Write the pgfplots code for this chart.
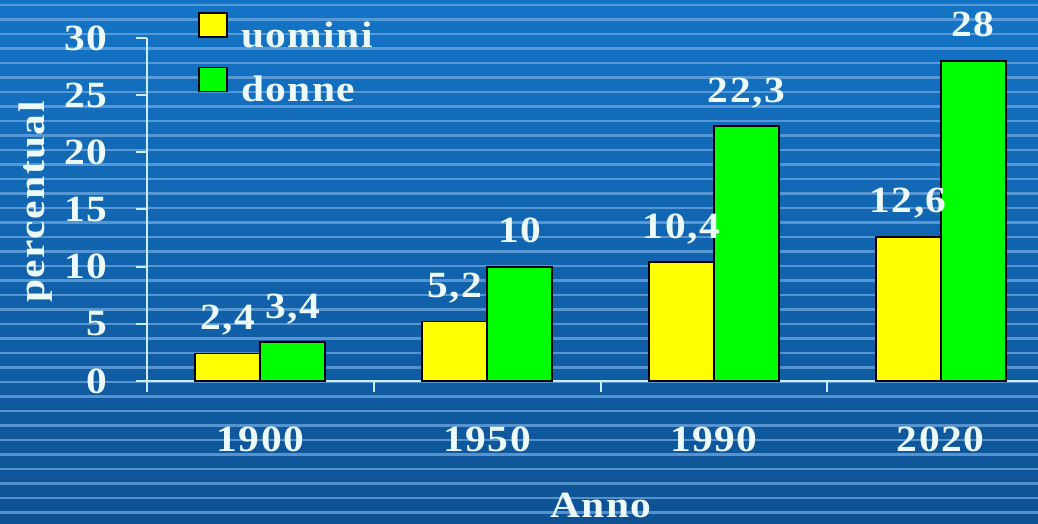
\documentclass[border=0pt]{standalone}
\usepackage{pgfplots}
\pgfplotsset{compat=1.18}
\usepackage{fontspec}
\newfontfamily\chartfont{Liberation Serif}[FakeStretch=1.12, LetterSpace=4]
\newcommand\cf{\chartfont\bfseries\fontsize{18.5pt}{21pt}\selectfont}
\definecolor{bgtop}{RGB}{20,116,198}
\definecolor{bgbot}{RGB}{14,82,148}
\definecolor{stripe}{RGB}{110,168,224}
\definecolor{txtcol}{RGB}{236,250,250}
\definecolor{axiscol}{RGB}{205,238,240}
\definecolor{barY}{RGB}{255,255,0}
\definecolor{barG}{RGB}{0,255,0}
\begin{document}
\begin{tikzpicture}
\useasboundingbox (0,0) rectangle (519pt,262pt);
\clip (0,0) rectangle (519pt,262pt);
\shade[top color=bgtop, bottom color=bgbot] (0,0) rectangle (519pt,262pt);
\foreach \i in {0,...,36} {
  \draw[stripe, opacity=0.75, line width=1.1pt] (0pt,{259.5pt-\i*7.25pt}) -- (519pt,{259.5pt-\i*7.25pt});
}
\begin{axis}[
  at={(73.5pt,71.5pt)}, anchor=south west,
  scale only axis, width=453.5pt, height=171.5pt,
  xmin=-0.5, xmax=3.5, ymin=0, ymax=30,
  clip=false,
  axis lines=left,
  axis line style={-, line width=1pt, color=axiscol},
  y axis line style={shorten <=-5.5pt},
  tick align=outside, major tick length=5.5pt,
  tick style={line width=1pt, color=axiscol},
  ytick={0,5,...,30},
  xtick={0.5,1.5,2.5}, xticklabels={},
  extra x ticks={0,1,2,3},
  extra x tick labels={1900,1950,1990,2020},
  extra x tick style={major tick length=0pt},
  /pgf/number format/assume math mode=true,
  /pgf/number format/use comma,
  /pgf/number format/fixed,
  /pgf/number format/precision=1,
  tick label style={font=\cf, text=txtcol},
  xticklabel style={anchor=base, yshift=-35.5pt},
  yticklabel style={anchor=east, inner sep=0pt, xshift=-14pt},
  label style={font=\cf, text=txtcol},
  xlabel={Anno},
  xlabel style={at={(axis description cs:0.5006,-0.3994)}, anchor=base},
  ylabel={percentual},
  ylabel style={at={(axis description cs:-0.1224,0.522)}, anchor=center},
  ybar=0pt, bar width=32.5pt,
  nodes near coords,
  every node near coord/.append style={font=\cf, text=txtcol, anchor=base, yshift=12pt},
  legend image code/.code={\draw[#1] (0pt,-0.5pt) rectangle (14pt,11.5pt);},
  legend style={at={(axis description cs:0.0562,1.0758)}, anchor=north west,
    draw=none, fill=none, inner sep=0pt, row sep=8pt, column sep=6.5pt,
    font=\cf, text=txtcol, nodes={inner sep=0pt}},
  legend cell align=left,
]
\addplot[fill=barY, draw=black, line width=0.9pt] coordinates {(0,2.4) (1,5.2) (2,10.4) (3,12.6)};
\addplot[fill=barG, draw=black, line width=0.9pt] coordinates {(0,3.4) (1,10) (2,22.3) (3,28)};
\legend{uomini,donne}
\end{axis}
\end{tikzpicture}
\end{document}
